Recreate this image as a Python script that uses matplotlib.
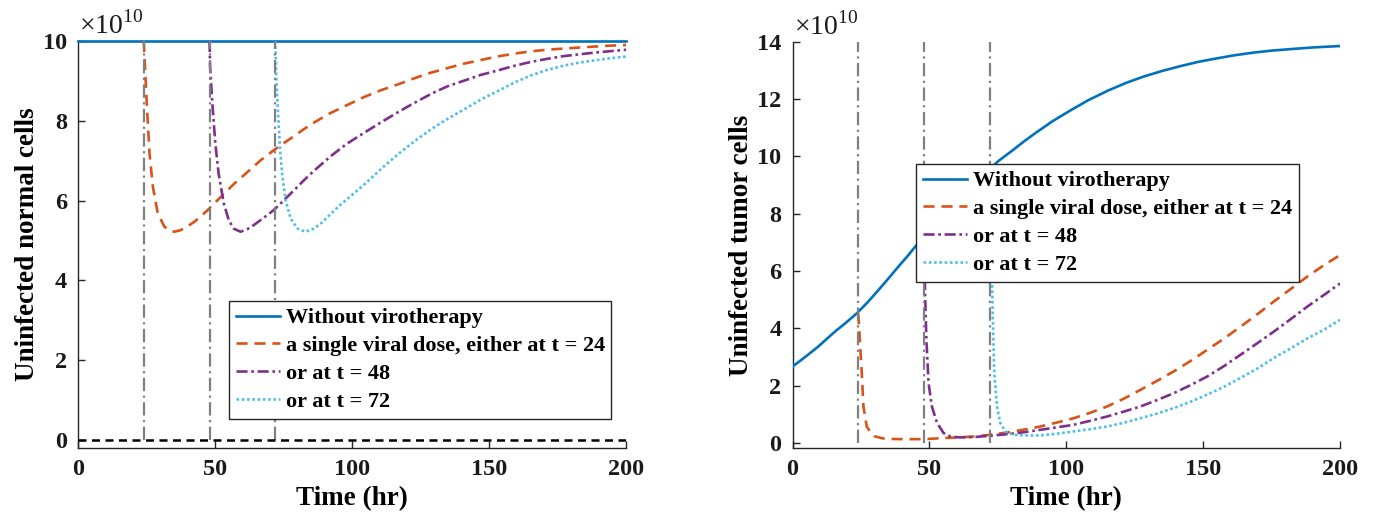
import matplotlib
matplotlib.use("Agg")
import matplotlib.pyplot as plt

plt.rcParams["font.family"] = ["Liberation Serif", "DejaVu Serif"]
plt.rcParams["mathtext.fontset"] = "custom"
plt.rcParams["mathtext.rm"] = "Liberation Serif"

# ---------------- data (values in units of 1e10 cells) ----------------
dose_times = [24, 48, 72]

# uninfected normal cells
t_normal_none = [0, 200]
normal_none = [10.0, 10.0]

t_normal_24 = [24.0, 24.5, 25.2, 26.1, 27.3, 29.1, 31.5, 33.4, 35.2, 37.5, 40.0, 42.5,
               47.3, 52.2, 57.1, 61.9, 66.8, 71.6, 75.3, 78.9, 82.2, 86.2, 92.0, 99.3,
               104.2, 110.3, 117.5, 122.5, 128.5, 135.8, 140.7, 146.8, 152.9, 159.0,
               165.1, 171.1, 177.2, 186.0, 193.0, 200.0]
normal_24 = [10.0, 9.27, 8.27, 7.18, 6.35, 5.68, 5.35, 5.25, 5.22, 5.26, 5.36, 5.47,
             5.76, 6.10, 6.43, 6.72, 7.02, 7.27, 7.45, 7.62, 7.78, 7.96, 8.19, 8.43,
             8.59, 8.76, 8.93, 9.06, 9.20, 9.34, 9.43, 9.52, 9.61, 9.68,
             9.74, 9.78, 9.81, 9.85, 9.88, 9.90]

t_normal_48 = [48.0, 48.2, 49.1, 50.1, 51.3, 53.2, 55.0, 56.8, 59.3, 61.7, 64.0, 66.6,
               71.4, 75.0, 78.7, 82.3, 86.0, 92.0, 98.0, 104.2, 110.3, 117.1, 122.5,
               129.3, 135.0, 141.5, 147.0, 153.6, 158.8, 164.9, 171.0, 177.1, 188.6, 200.0]
normal_48 = [10.0, 9.36, 8.35, 7.44, 6.68, 5.93, 5.51, 5.30, 5.22, 5.28, 5.38, 5.51,
             5.76, 6.00, 6.25, 6.50, 6.74, 7.10, 7.42, 7.69, 7.95, 8.23, 8.44,
             8.69, 8.87, 9.02, 9.15, 9.27, 9.37, 9.47, 9.55, 9.62, 9.71, 9.78]

t_normal_72 = [72.0, 72.4, 73.0, 73.7, 74.6, 75.8, 77.6, 80.1, 83.0, 86.2, 89.0, 92.0,
               95.5, 99.3, 104.9, 111.0, 117.1, 123.2, 129.3, 135.4, 141.5, 147.5,
               153.6, 159.3, 165.0, 171.0, 177.1, 183.0, 189.2, 194.6, 200.0]
normal_72 = [10.0, 9.0, 8.2, 7.3, 6.6, 6.0, 5.55, 5.30, 5.22, 5.30, 5.45, 5.65,
             5.88, 6.10, 6.43, 6.82, 7.18, 7.51, 7.81, 8.07, 8.31, 8.55,
             8.76, 8.96, 9.13, 9.27, 9.38, 9.46, 9.52, 9.57, 9.61]

# uninfected tumor cells
t_tumor_none = [0.0, 4.7, 9.4, 15.5, 19.5, 23.5, 27.5, 31.4, 35.0, 38.7, 41.8, 44.8,
                48.0, 52.0, 56.0, 60.0, 64.0, 68.0, 72.0, 75.2, 80.5, 84.5, 88.5, 95.0,
                101.8, 108.0, 115.1, 121.7, 128.4, 135.0, 141.7, 148.3, 155.0, 161.6,
                168.3, 175.0, 181.6, 190.0, 200.0]
tumor_none = [2.67, 3.01, 3.37, 3.89, 4.20, 4.53, 4.92, 5.34, 5.74, 6.16, 6.50, 6.85,
              7.20, 7.64, 8.06, 8.47, 8.86, 9.22, 9.56, 9.84, 10.22, 10.52, 10.80, 11.23,
              11.62, 11.96, 12.29, 12.56, 12.79, 12.98, 13.15, 13.30, 13.42, 13.53,
              13.62, 13.69, 13.74, 13.80, 13.85]

t_tumor_24 = [24.0, 24.6, 25.3, 25.9, 27.1, 28.5, 30.2, 33.8, 40.0, 48.0, 53.9, 60.0,
              66.1, 72.0, 78.3, 84.4, 90.5, 96.6, 102.7, 108.8, 114.9, 121.0, 127.1,
              133.1, 139.2, 145.3, 151.4, 157.5, 163.6, 169.7, 175.8, 181.9, 188.0,
              194.0, 200.0]
tumor_24 = [4.53, 3.6, 2.44, 1.28, 0.58, 0.38, 0.23, 0.15, 0.14, 0.14, 0.17, 0.20,
            0.23, 0.29, 0.37, 0.47, 0.58, 0.72, 0.87, 1.06, 1.28, 1.55, 1.86,
            2.17, 2.50, 2.86, 3.25, 3.64, 4.06, 4.49, 4.94, 5.37, 5.81,
            6.20, 6.56]

t_tumor_48 = [48.0, 48.4, 48.9, 49.7, 50.9, 52.8, 55.2, 57.7, 61.3, 66.0, 72.3, 78.0,
              84.5, 93.0, 102.7, 108.8, 114.9, 121.0, 127.1, 133.1, 139.2, 145.3,
              151.4, 157.5, 163.6, 169.7, 175.8, 181.9, 188.0, 194.0, 200.0]
tumor_48 = [7.20, 5.30, 3.60, 2.09, 1.28, 0.70, 0.35, 0.23, 0.20, 0.21, 0.26, 0.31,
            0.38, 0.50, 0.64, 0.78, 0.93, 1.10, 1.28, 1.50, 1.74, 2.02,
            2.32, 2.68, 3.08, 3.48, 3.89, 4.32, 4.76, 5.16, 5.57]

t_tumor_72 = [72.0, 72.5, 72.9, 73.2, 73.7, 74.7, 75.9, 77.7, 80.8, 85.0, 90.5, 96.6,
              102.7, 108.8, 114.9, 121.0, 127.1, 133.1, 139.2, 145.3, 151.4, 157.5,
              163.6, 169.7, 175.8, 181.9, 188.0, 194.0, 200.0]
tumor_72 = [9.56, 6.60, 5.58, 4.18, 2.44, 1.28, 0.70, 0.41, 0.29, 0.27, 0.27, 0.33,
            0.41, 0.49, 0.58, 0.71, 0.87, 1.03, 1.22, 1.44, 1.69, 1.96,
            2.27, 2.60, 2.97, 3.30, 3.65, 3.95, 4.30]

legend_labels = ["Without virotherapy",
                 "a single viral dose, either at t = 24",
                 "or at t = 48",
                 "or at t = 72"]

xticks = [0, 50, 100, 150, 200]

# ---------------- styles ----------------
C_BLUE = "#0072BD"
C_ORANGE = "#D95319"
C_PURPLE = "#7E2F8E"
C_CYAN = "#4DBEEE"
C_GRAY = "#808080"
C_AXIS = "#262626"
LW = 1.9

styles = [
    dict(color=C_BLUE, lw=LW, linestyle="-"),
    dict(color=C_ORANGE, lw=LW, linestyle=(0, (4.2, 2.6))),
    dict(color=C_PURPLE, lw=LW, linestyle=(0, (4.2, 1.4, 1.0, 1.4))),
    dict(color=C_CYAN, lw=LW, linestyle=(0, (1.0, 1.0))),
]

BOLD = dict(family="Liberation Serif", weight="bold")

fig = plt.figure(figsize=(13.74, 5.19), dpi=100)
ax1 = fig.add_axes([0.0568, 0.1368, 0.3988, 0.7842])
ax2 = fig.add_axes([0.5768, 0.1362, 0.3985, 0.7834])


def style_axes(ax, ylim, yticks, ylabel):
    ax.set_xlim(0, 200)
    ax.set_ylim(*ylim)
    ax.set_xticks(xticks)
    ax.set_yticks(yticks)
    for s in ("top", "right"):
        ax.spines[s].set_visible(False)
    for s in ("left", "bottom"):
        ax.spines[s].set_color(C_AXIS)
        ax.spines[s].set_linewidth(1.0)
    ax.tick_params(direction="in", length=5, width=1.0, color=C_AXIS,
                   labelsize=17.5, pad=8, labelcolor="#1a1a1a")
    for lab in ax.get_xticklabels() + ax.get_yticklabels():
        lab.set_fontweight("bold")
    ax.set_xlabel("Time (hr)", fontsize=19.5, labelpad=4, **BOLD)
    ax.set_ylabel(ylabel, fontsize=19.5, labelpad=2, **BOLD)
    ax.text(0.002, 1.004, r"$\times10^{10}$", transform=ax.transAxes,
            ha="left", va="bottom", fontsize=20, color="#1a1a1a")


def add_legend(ax, handles, anchor):
    leg = ax.legend(handles, legend_labels, loc="upper left", bbox_to_anchor=anchor,
                    borderaxespad=0, frameon=True, fancybox=False, framealpha=1,
                    edgecolor="#262626", prop=dict(family="Liberation Serif",
                                                   weight="bold", size=16),
                    handlelength=2.0, handletextpad=0.25, labelspacing=0.33,
                    borderpad=0.3)
    leg.get_frame().set_linewidth(1.0)
    leg.set_zorder(10)


# ---- left panel: normal cells ----
h = []
h += ax1.plot(t_normal_none, normal_none, clip_on=False, zorder=3, **styles[0])
h += ax1.plot(t_normal_24, normal_24, zorder=3, **styles[1])
h += ax1.plot(t_normal_48, normal_48, zorder=3, **styles[2])
h += ax1.plot(t_normal_72, normal_72, zorder=3, **styles[3])
for td in dose_times:
    ax1.plot([td, td], [0, 10], color=C_GRAY, lw=1.6,
             linestyle=(0, (6, 2, 1, 2)), zorder=4)
ax1.axhline(0, color="black", lw=1.8, linestyle=(0, (3.2, 2.2)), zorder=5)
style_axes(ax1, (-0.2, 10), [0, 2, 4, 6, 8, 10], "Uninfected normal cells")
add_legend(ax1, h, (0.2755, 0.361))

# ---- right panel: tumor cells ----
h = []
h += ax2.plot(t_tumor_none, tumor_none, zorder=3, **styles[0])
h += ax2.plot(t_tumor_24, tumor_24, zorder=3, **styles[1])
h += ax2.plot(t_tumor_48, tumor_48, zorder=3, **styles[2])
h += ax2.plot(t_tumor_72, tumor_72, zorder=3, **styles[3])
for td in dose_times:
    ax2.plot([td, td], [0, 14], color=C_GRAY, lw=1.6,
             linestyle=(0, (6, 2, 1, 2)), zorder=4, clip_on=False)
style_axes(ax2, (-0.18, 14), [0, 2, 4, 6, 8, 10, 12, 14], "Uninfected tumor cells")
add_legend(ax2, h, (0.2256, 0.699))

fig.savefig("out.png", dpi=100)
